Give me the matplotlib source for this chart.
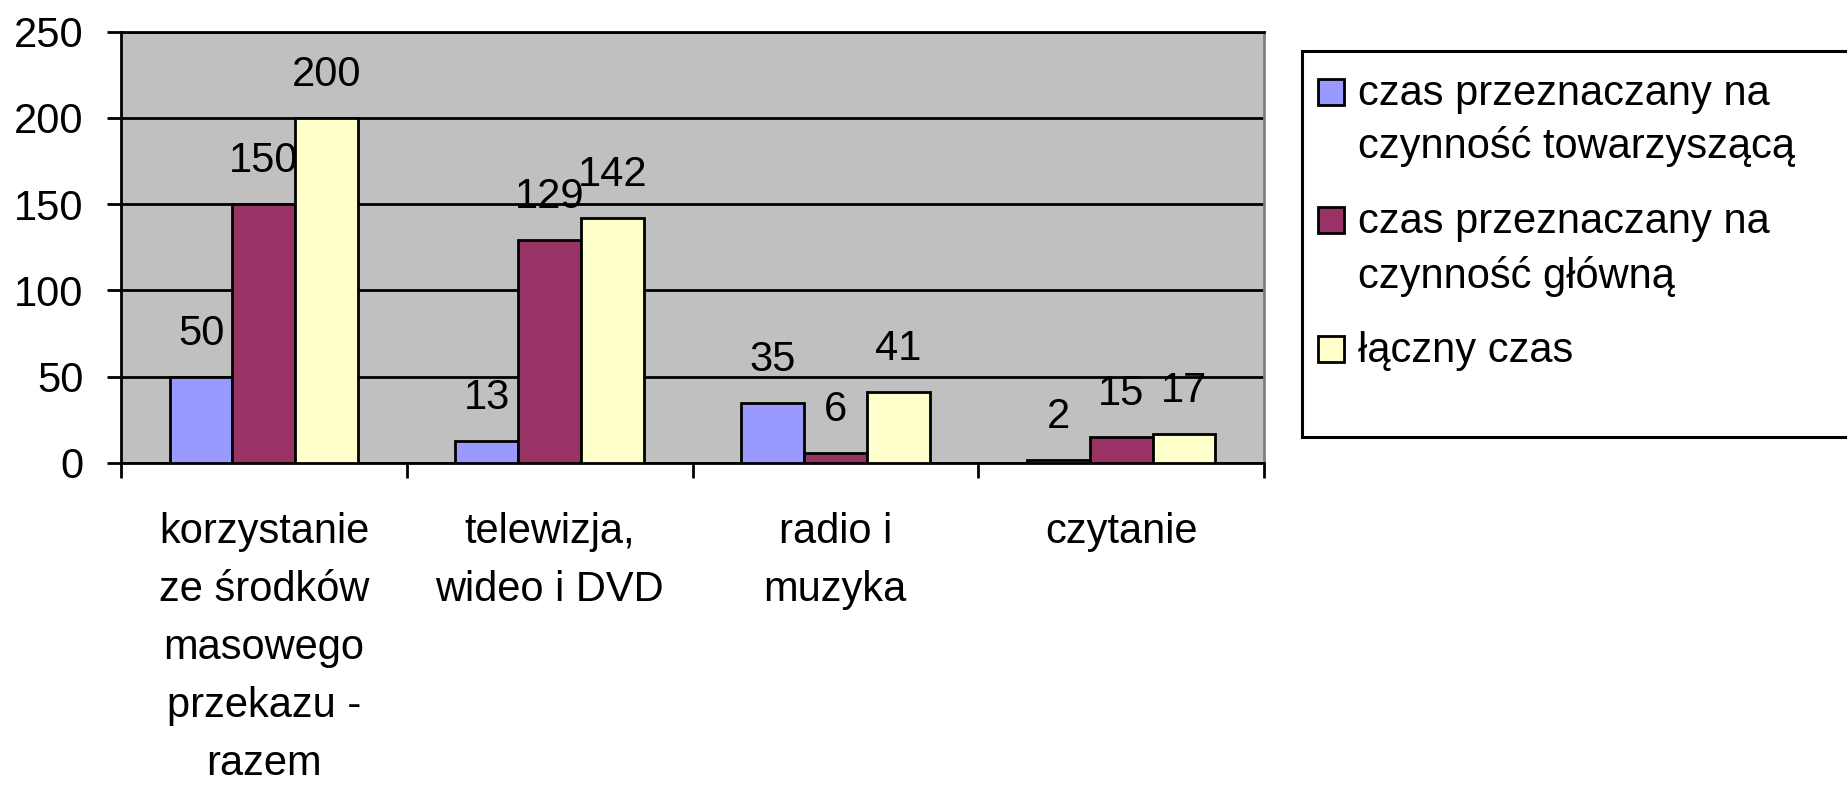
import matplotlib
matplotlib.use('Agg')
import matplotlib.pyplot as plt
import numpy as np
from matplotlib.patches import Rectangle

categories = ["korzystanie\nze środków\nmasowego\nprzekazu -\nrazem",
              "telewizja,\nwideo i DVD", "radio i\nmuzyka", "czytanie"]
series_names = [["czas przeznaczany na", "czynność towarzyszącą"],
                ["czas przeznaczany na", "czynność główną"],
                ["łączny czas"]]
towarzyszaca = [50, 13, 35, 2]
glowna = [150, 129, 6, 15]
laczny = [200, 142, 41, 17]
colors = ['#9999FF', '#993366', '#FFFFCC']
y_ticks = [0, 50, 100, 150, 200, 250]

plt.rcParams['font.family'] = ['Liberation Sans', 'DejaVu Sans']
FS = 30

W, H = 1847, 785
fig = plt.figure(figsize=(W / 100, H / 100), dpi=100)
ax = fig.add_axes([121 / W, 1 - 463 / H, (1264 - 121) / W, (463 - 31.5) / H])
ax.set_facecolor('#C0C0C0')

x = np.arange(len(categories))
bw = 0.22
for i, (vals, c) in enumerate(zip([towarzyszaca, glowna, laczny], colors)):
    pos = x + (i - 1) * bw
    ax.bar(pos, vals, bw, color=c, edgecolor='black', linewidth=2, zorder=3)
    for xi, v in zip(pos, vals):
        ax.annotate(str(v), (xi, v), xytext=(0, 23), textcoords='offset points',
                    ha='center', va='baseline', fontsize=FS, zorder=5,
                    annotation_clip=False)

ax.set_ylim(0, 250)
ax.set_xlim(-0.5, 3.5)
ax.set_yticks(y_ticks)
ax.set_yticklabels([str(v) for v in y_ticks], fontsize=FS)
ax.yaxis.grid(True, color='black', lw=2)
ax.set_axisbelow(True)

ax.set_xticks(np.arange(-0.5, 4, 1))
ax.set_xticklabels([])
ax.set_xticks(x, minor=True)
ax.set_xticklabels(categories, minor=True, fontsize=FS, linespacing=1.58)
ax.tick_params(axis='x', which='minor', length=0, pad=35)
ax.tick_params(axis='x', which='major', length=11, width=2, direction='out')
ax.tick_params(axis='y', length=10, width=2, pad=17, direction='out')

for s in ['left', 'bottom', 'top']:
    ax.spines[s].set_color('black')
    ax.spines[s].set_linewidth(2)
ax.spines['right'].set_color('#808080')
ax.spines['right'].set_linewidth(2)

# legend (manual, box extends past the right edge)
def fx(px):
    return px / W

def fy(py):
    return 1 - py / H

box = Rectangle((fx(1302), fy(437)), fx(700), (437 - 51) / H, transform=fig.transFigure,
                facecolor='white', edgecolor='black', linewidth=2.2, clip_on=False)
fig.add_artist(box)
baselines = [[105, 158], [233, 288], [362]]
for names, c, bl in zip(series_names, colors, baselines):
    sq = Rectangle((fx(1318), fy(bl[0])), fx(26), 26 / H, transform=fig.transFigure,
                   facecolor=c, edgecolor='black', linewidth=2)
    fig.add_artist(sq)
    for line, b in zip(names, bl):
        fig.text(fx(1358), fy(b), line, fontsize=FS, ha='left', va='baseline')

fig.savefig('out.png', dpi=100)
